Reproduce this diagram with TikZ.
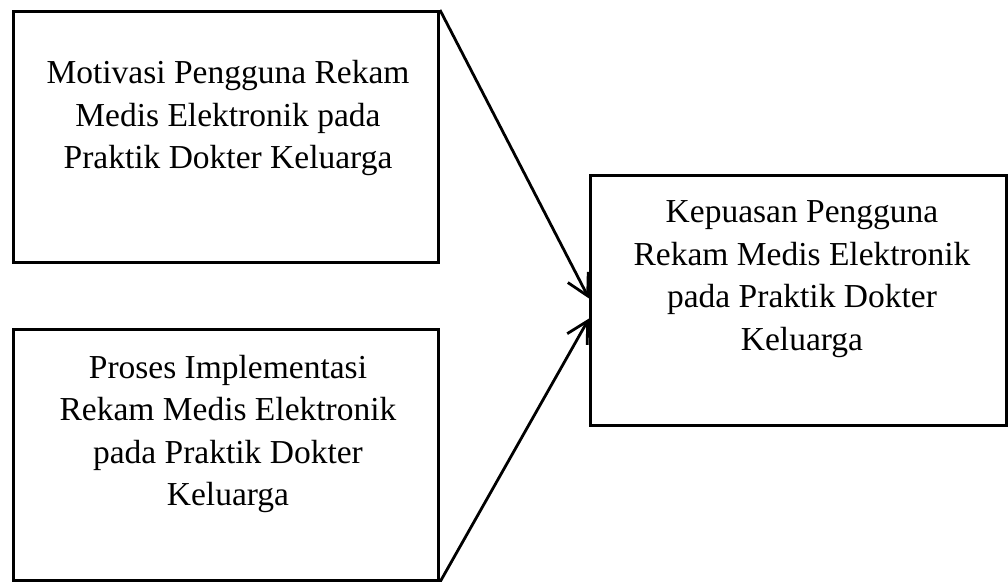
\documentclass[tikz,border=0pt]{standalone}
\usepackage{fontspec}
\setmainfont{Liberation Serif}
\usetikzlibrary{arrows.meta}

\tikzset{
  kotak/.style={draw, line width=3pt, inner sep=0pt, anchor=north west},
  isi/.style={align=center, inner sep=0pt, font=\fontsize{33.5}{42.5}\selectfont},
  panah/.style={line width=2.8pt, -{Straight Barb[length=21pt,width=23pt]}}
}

\begin{document}
\begin{tikzpicture}[x=1pt,y=-1pt]
                \useasboundingbox (0,0) rectangle (1008,581);
                % kotak
                \node[kotak, minimum width=425pt, minimum height=251pt] (motivasi) at (12,10) {};
                \node[kotak, minimum width=425pt, minimum height=251pt] (proses) at (12,328) {};
                \node[kotak, minimum width=416pt, minimum height=250pt] (kepuasan) at (589,174) {};
                % teks
                \node[isi] (tmotivasi) at (228,118) {Motivasi Pengguna Rekam\\Medis Elektronik pada\\Praktik Dokter Keluarga};
                \node[isi] (tproses) at (228,434) {Proses Implementasi\\Rekam Medis Elektronik\\pada Praktik Dokter\\Keluarga};
                \node[isi] (tkepuasan) at (802,279) {Kepuasan Pengguna\\Rekam Medis Elektronik\\pada Praktik Dokter\\Keluarga};
                % panah
                \draw[panah] (motivasi.north east)--([yshift=2pt]kepuasan.west);
                \draw[panah] (proses.south east)--([yshift=-18pt]kepuasan.west);
            \end{tikzpicture}
\end{document}
